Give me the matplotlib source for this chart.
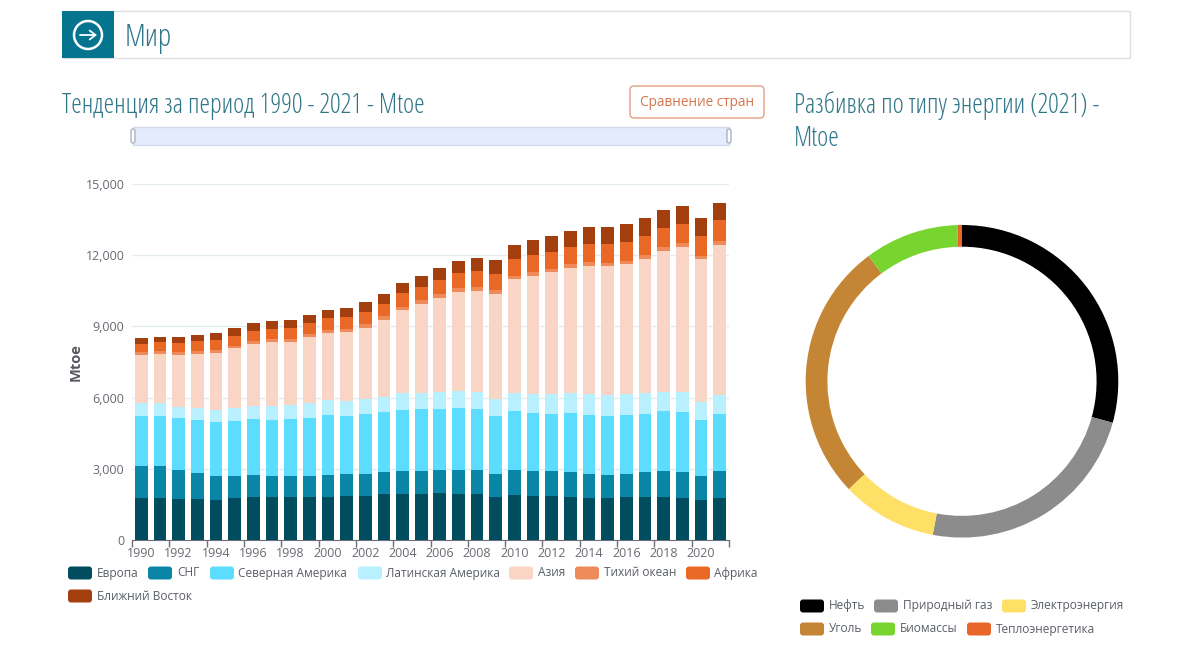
import os
import matplotlib
matplotlib.use("Agg")
import matplotlib.pyplot as plt
import matplotlib.font_manager as fm
from matplotlib.patches import FancyBboxPatch, Rectangle, Circle
import numpy as np

years = list(range(1990, 2022))
series_names = ["Европа", "СНГ", "Северная Америка", "Латинская Америка", "Азия", "Тихий океан", "Африка", "Ближний Восток"]
series_colors = ["#004d60", "#0a85a5", "#5cdcff", "#b8f0ff", "#f9d5c5", "#ef8a5a", "#e96826", "#a33f0e"]

europe = [1784,1784,1728,1728,1700,1770,1826,1826,1826,1826,1826,1869,1869,1925,1953,1953,1967,1939,1939,1826,1911,1869,1855,1826,1756,1784,1798,1826,1826,1784,1686,1756]
cis = [1335,1321,1208,1110,998,942,914,872,872,872,900,899,899,941,941,941,998,997,1026,942,1025,1039,1053,1040,1012,970,998,1026,1082,1082,1026,1138]
north_america = [2122,2136,2192,2234,2290,2304,2360,2360,2388,2458,2543,2473,2529,2543,2586,2614,2571,2628,2543,2445,2487,2459,2417,2473,2515,2487,2487,2473,2529,2543,2332,2417]
latin_america = [519,519,492,506,492,562,562,604,604,619,618,632,646,633,702,702,716,730,744,744,773,801,843,843,885,857,857,857,815,829,759,815]
asia = [2038,2065,2178,2260,2400,2499,2611,2669,2654,2766,2836,2905,3003,3241,3513,3723,3962,4159,4257,4426,4791,4974,5114,5269,5381,5437,5479,5662,5929,6098,6041,6308]
pacific = [126,127,112,128,114,114,129,127,128,128,129,130,144,159,140,169,155,169,169,155,141,154,155,182,155,155,155,169,169,169,141,169]
africa = [351,380,394,408,422,422,421,436,478,464,491,491,506,519,562,562,590,618,646,660,702,717,716,717,772,772,787,801,801,814,829,871]
middle_east = [225,224,238,267,295,309,338,351,337,365,366,394,422,422,436,478,492,520,576,590,604,632,675,660,703,717,744,758,773,773,744,745]
all_series = [europe, cis, north_america, latin_america, asia, pacific, africa, middle_east]

energy_names = ["Нефть", "Природный газ", "Электроэнергия", "Уголь", "Биомассы", "Теплоэнергетика"]
energy_values = [4163, 3373, 1406, 3828, 1382, 67]
energy_colors = ["#000000", "#8c8c8c", "#ffe066", "#c48535", "#78d42f", "#e9662a"]

W, H = 1200, 657
plt.rcParams["font.family"] = ["Open Sans", "DejaVu Sans"]

def find_font(*basenames):
    for base in basenames:
        for f in fm.fontManager.ttflist:
            if os.path.basename(f.fname) == base:
                return f.fname
    return None

COND_PATH = find_font("OpenSans-CondLight.ttf", "RobotoCondensed-Light.ttf", "DejaVuSansCondensed.ttf")

def cond(size):
    if COND_PATH:
        return fm.FontProperties(fname=COND_PATH, size=size)
    return fm.FontProperties(family="Open Sans", size=size * 0.7)

fig = plt.figure(figsize=(W / 100, H / 100), dpi=100, facecolor="white")

def px_axes(l, t, r, b):
    return fig.add_axes([l / W, 1 - b / H, (r - l) / W, (b - t) / H])

ov = fig.add_axes([0, 0, 1, 1], zorder=5)
ov.set_xlim(0, W); ov.set_ylim(H, 0); ov.axis("off"); ov.patch.set_alpha(0)

ov.add_patch(Rectangle((62.5, 10.5), 1067, 47, fc="white", ec="#dcdfe0", lw=1))
ov.add_patch(Rectangle((62, 11), 52, 47, fc="#04748f", ec="none"))
ov.add_patch(Circle((88, 35), 14, fc="none", ec="white", lw=1.8))
ov.annotate("", xy=(97, 35), xytext=(80, 35),
            arrowprops=dict(arrowstyle="->,head_width=0.32,head_length=0.42", color="white", lw=1.3, shrinkA=0, shrinkB=0))
TITLE = "#2f7688"
ov.text(125, 38, "Мир", fontproperties=cond(22), color=TITLE, va="center", ha="left")
ov.text(62, 106, "Тенденция за период 1990 - 2021 - Mtoe", fontproperties=cond(19.3), color=TITLE, va="center", ha="left")
ov.text(794, 106, "Разбивка по типу энергии (2021) -", fontproperties=cond(19.3), color=TITLE, va="center", ha="left")
ov.text(794, 139, "Mtoe", fontproperties=cond(19.3), color=TITLE, va="center", ha="left")

ov.add_patch(FancyBboxPatch((630, 86), 134, 32, boxstyle="round,pad=0,rounding_size=4", fc="white", ec="#dc8a66", lw=0.8))
ov.text(697, 103, "Сравнение стран", fontsize=9.8, color="#d4754c", va="center", ha="center")

ov.add_patch(Rectangle((133, 127), 596, 18, fc="#e4ebfb", ec="#d3dbec", lw=1))
for xh in (133, 729):
    ov.add_patch(FancyBboxPatch((xh - 2, 129), 4, 14, boxstyle="round,pad=0,rounding_size=2", fc="white", ec="#a9b4c4", lw=1))

def swatch(x, yc, color, label, tx):
    ov.add_patch(FancyBboxPatch((x, yc - 6.5), 24, 13, boxstyle="round,pad=0,rounding_size=3", fc=color, ec="none"))
    ov.text(tx, yc, label, fontsize=8.6, color="#5a5f66", va="center", ha="left")

left_legend = [(68, 573, 97), (148, 573, 177), (210, 573, 238), (358, 573, 386), (509, 573, 538), (575, 573, 604), (686, 573, 714), (68, 596, 97)]
for (x, y, tx), n, c in zip(left_legend, series_names, series_colors):
    swatch(x, y, c, n, tx)
right_legend = [(800, 606, 829), (874, 606, 903), (1002, 606, 1031), (800, 629, 829), (871, 629, 900), (967, 629, 996)]
for (x, y, tx), n, c in zip(right_legend, energy_names, energy_colors):
    swatch(x, y, c, n, tx)

ax = px_axes(132, 184, 729, 540)
x = np.arange(len(years))
bottom = np.zeros(len(years))
for vals, c, n in zip(all_series, series_colors, series_names):
    ax.bar(x, vals, width=0.68, bottom=bottom, color=c, label=n, zorder=3)
    bottom += np.array(vals)
ax.set_xlim(-0.5, 31.5)
ax.set_ylim(0, 15000)
ax.set_yticks([0, 3000, 6000, 9000, 12000, 15000])
ax.set_yticklabels(["0", "3,000", "6,000", "9,000", "12,000", "15,000"])
ax.grid(axis="y", color="#e3edf0", lw=1, zorder=0)
ax.set_axisbelow(True)
ax.set_xticks(np.arange(-0.5, 32, 2))
ax.set_xticklabels([])
ax.set_xticks(x[::2], [str(y) for y in years[::2]], minor=True)
ax.tick_params(axis="x", which="major", length=5, color="#6e7079", width=1)
ax.tick_params(axis="x", which="minor", length=0, pad=5, labelsize=9, labelcolor="#666a72")
ax.tick_params(axis="y", length=0, pad=5.5, labelsize=9, labelcolor="#666a72")
for s in ("top", "right", "left"):
    ax.spines[s].set_visible(False)
ax.spines["bottom"].set_color("#6e7079")
ax.set_ylabel("Mtoe", fontsize=10.5, fontweight="bold", color="#55585e")
ax.yaxis.set_label_coords(-0.082, 0.5)

pie = px_axes(805.7, 225, 1118.3, 537.6)
pie.pie(energy_values, colors=energy_colors, startangle=90, counterclock=False, radius=1,
        wedgeprops=dict(width=0.139, edgecolor="none"))
pie.set_xlim(-1, 1); pie.set_ylim(-1, 1)

fig.savefig("out.png", dpi=100)
